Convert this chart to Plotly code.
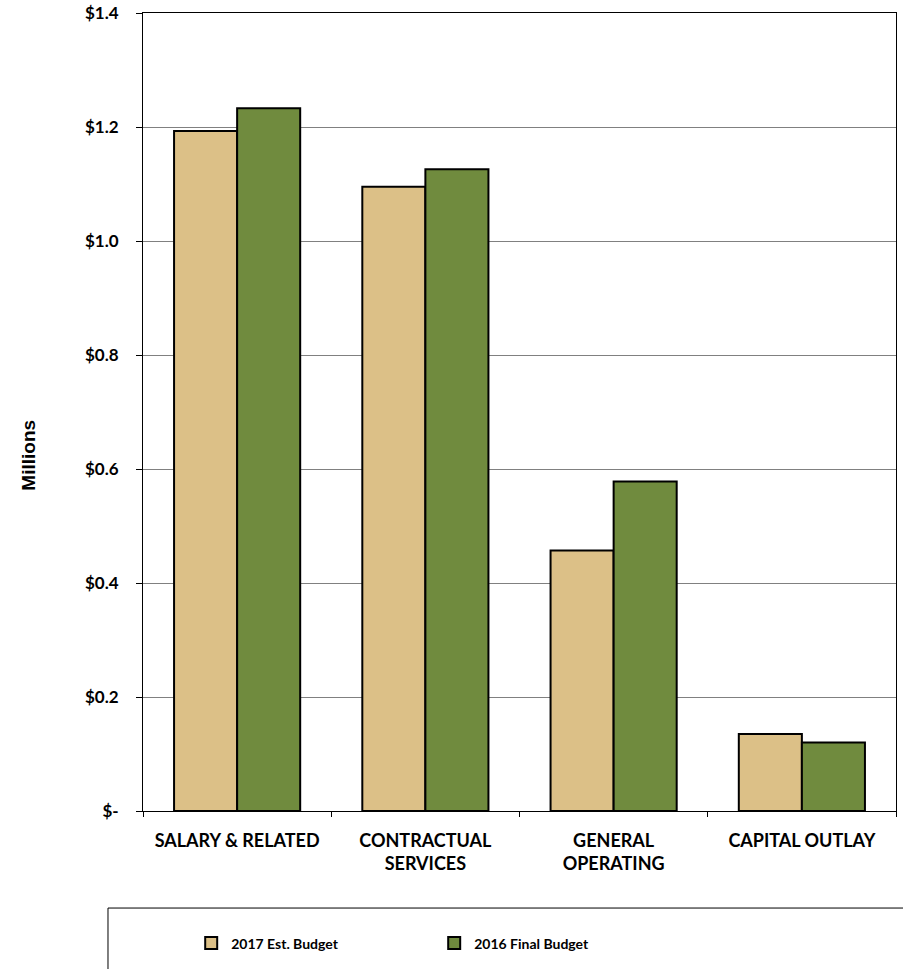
import plotly.graph_objects as go

# Expenditure categories (line breaks as shown on the axis)
categories = ["SALARY & RELATED", "CONTRACTUAL<br>SERVICES", "GENERAL<br>OPERATING", "CAPITAL OUTLAY"]

# Budget amounts in millions of dollars
est_2017 = [1.193, 1.095, 0.457, 0.135]
final_2016 = [1.233, 1.126, 0.578, 0.120]

# Y-axis ticks
y_tickvals = [0, 0.2, 0.4, 0.6, 0.8, 1.0, 1.2, 1.4]
y_ticktext = ["$-", "$0.2", "$0.4", "$0.6", "$0.8", "$1.0", "$1.2", "$1.4"]

TAN = "#DCC087"
GREEN = "#708B3E"
FONT = "Lato"

fig = go.Figure()
fig.add_trace(go.Bar(
    x=categories, y=est_2017, name="2017 Est. Budget",
    marker=dict(color=TAN, line=dict(color="black", width=2)),
))
fig.add_trace(go.Bar(
    x=categories, y=final_2016, name="2016 Final Budget",
    marker=dict(color=GREEN, line=dict(color="black", width=2)),
))

# Legend frame
fig.add_shape(type="rect", xref="paper", yref="paper",
              x0=-0.0465, x1=1.2, y0=-0.3, y1=-0.1216,
              line=dict(color="black", width=1), fillcolor="rgba(0,0,0,0)")

# Vertical axis caption
fig.add_annotation(text="<b>Millions</b>", xref="paper", yref="paper",
                   x=-0.152, y=0.446, xanchor="center", yanchor="middle",
                   textangle=-90, showarrow=False,
                   font=dict(family="Liberation Sans, Arial", size=19, color="black"))

fig.update_layout(
    width=903, height=969,
    margin=dict(l=143, r=7, t=13, b=158, autoexpand=False),
    paper_bgcolor="white", plot_bgcolor="white",
    barmode="group", bargap=0.33, bargroupgap=0,
    font=dict(family=FONT, color="black"),
    showlegend=True,
    legend=dict(orientation="h", x=0.064, y=-0.166, xanchor="left", yanchor="middle",
                entrywidth=198, entrywidthmode="pixels",
                font=dict(family=FONT, size=14, weight="bold"),
                bgcolor="rgba(0,0,0,0)", itemwidth=30, traceorder="normal"),
    xaxis=dict(
        showline=True, linecolor="black", linewidth=1, mirror=True,
        ticks="outside", ticklen=5, tickcolor="black", tickson="boundaries",
        tickfont=dict(family=FONT, size=18, weight="bold"),
        ticklabelstandoff=13, automargin=False,
        showgrid=False,
    ),
    yaxis=dict(
        range=[0, 1.4], tickvals=y_tickvals, ticktext=y_ticktext,
        showline=True, linecolor="black", linewidth=1, mirror=True,
        ticks="outside", ticklen=6, tickcolor="black",
        tickfont=dict(family=FONT, size=17, weight="bold"),
        ticklabelstandoff=14, automargin=False,
        showgrid=True, gridcolor="#808080", gridwidth=1,
        zeroline=False,
    ),
)

fig.write_html("out.html")
